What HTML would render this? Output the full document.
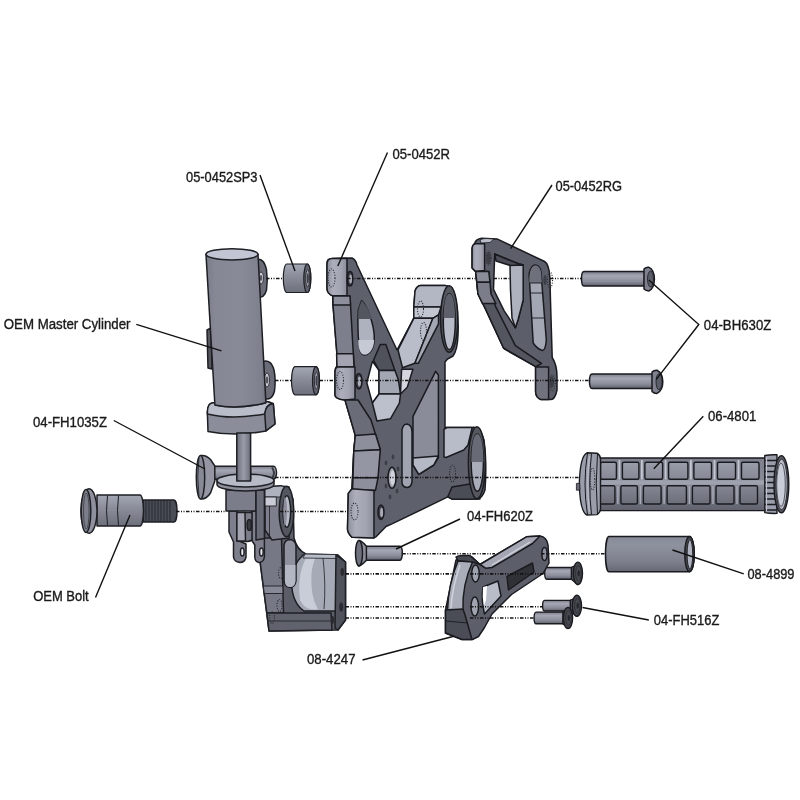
<!DOCTYPE html>
<html><head><meta charset="utf-8">
<style>
html,body{margin:0;padding:0;background:#fff;}
svg{display:block;will-change:transform;}
text{font-family:"Liberation Sans",sans-serif;font-size:14px;fill:#1a1a1a;stroke:#1a1a1a;stroke-width:0.35px;}
.ld{stroke:#111;stroke-width:1.4;fill:none;}
.cl{stroke:#151515;stroke-width:1.6;fill:none;stroke-dasharray:3.5 1.5 1 1.5 1 1.5;}
</style></head>
<body>
<svg width="800" height="800" viewBox="0 0 800 800">
<rect width="800" height="800" fill="#fff"/>
<defs>
<linearGradient id="gCyl" x1="0" y1="0" x2="1" y2="0">
<stop offset="0" stop-color="#7a7d89"/><stop offset="0.15" stop-color="#868995"/><stop offset="0.6" stop-color="#888b97"/><stop offset="0.92" stop-color="#7e818d"/><stop offset="1" stop-color="#71747f"/>
</linearGradient>
<linearGradient id="gRod" x1="0" y1="0" x2="1" y2="0">
<stop offset="0" stop-color="#6c6f7a"/><stop offset="0.5" stop-color="#9a9daa"/><stop offset="1" stop-color="#6c6f7a"/>
</linearGradient>
<linearGradient id="gSpc" x1="0" y1="0" x2="0" y2="1">
<stop offset="0" stop-color="#a4a8b5"/><stop offset="0.35" stop-color="#8f929e"/><stop offset="1" stop-color="#6d707b"/>
</linearGradient>
<linearGradient id="gBolt" x1="0" y1="0" x2="0" y2="1">
<stop offset="0" stop-color="#7b7e8a"/><stop offset="0.3" stop-color="#a5a8b4"/><stop offset="0.7" stop-color="#8a8d99"/><stop offset="1" stop-color="#5e616c"/>
</linearGradient>
<linearGradient id="gGrip" x1="0" y1="0" x2="0" y2="1">
<stop offset="0" stop-color="#7a7d89"/><stop offset="0.25" stop-color="#8d909c"/><stop offset="0.6" stop-color="#7e818d"/><stop offset="1" stop-color="#5e616c"/>
</linearGradient>
<linearGradient id="gSleeve" x1="0" y1="0" x2="0" y2="1">
<stop offset="0" stop-color="#878a97"/><stop offset="0.25" stop-color="#8e919e"/><stop offset="0.7" stop-color="#7e818d"/><stop offset="1" stop-color="#666974"/>
</linearGradient>
<linearGradient id="gGripB" x1="0" y1="0" x2="0" y2="1">
<stop offset="0" stop-color="#7d808c"/><stop offset="0.5" stop-color="#8a8d99"/><stop offset="1" stop-color="#5f626d"/>
</linearGradient>
<linearGradient id="gPadU" x1="0" y1="0" x2="0" y2="1">
<stop offset="0" stop-color="#9a9daa"/><stop offset="1" stop-color="#868995"/>
</linearGradient>
<linearGradient id="gPadL" x1="0" y1="0" x2="0" y2="1">
<stop offset="0" stop-color="#848793"/><stop offset="1" stop-color="#6c6f7a"/>
</linearGradient>
<linearGradient id="gBoss" x1="0" y1="0" x2="1" y2="0">
<stop offset="0" stop-color="#8c8f9b"/><stop offset="0.3" stop-color="#acafbb"/><stop offset="0.7" stop-color="#a2a5b1"/><stop offset="1" stop-color="#8b8e9a"/>
</linearGradient>
</defs>
<!--PARTS-->
<g id="grip" stroke="#1a1b20" stroke-width="1.4" stroke-linejoin="round">
<path d="M598 458 H768 V510.6 H598 Z" fill="url(#gGripB)"/>
<path d="M600 482.5 H765" fill="none" stroke="#9ea2ae" stroke-width="4.5"/>
<path d="M619.4 460 V479.5" stroke="#c3c7d2" stroke-width="1.8" fill="none"/>
<path d="M617.9 486 V504" stroke="#a9adb9" stroke-width="1.4" fill="none"/>
<path d="M641.9 460 V479.5" stroke="#c3c7d2" stroke-width="1.8" fill="none"/>
<path d="M640.4 486 V504" stroke="#a9adb9" stroke-width="1.4" fill="none"/>
<path d="M665.6 460 V479.5" stroke="#c3c7d2" stroke-width="1.8" fill="none"/>
<path d="M664.1 486 V504" stroke="#a9adb9" stroke-width="1.4" fill="none"/>
<path d="M690.9 460 V479.5" stroke="#c3c7d2" stroke-width="1.8" fill="none"/>
<path d="M689.4 486 V504" stroke="#a9adb9" stroke-width="1.4" fill="none"/>
<path d="M714.5 460 V479.5" stroke="#c3c7d2" stroke-width="1.8" fill="none"/>
<path d="M713.0 486 V504" stroke="#a9adb9" stroke-width="1.4" fill="none"/>
<path d="M738.5 460 V479.5" stroke="#c3c7d2" stroke-width="1.8" fill="none"/>
<path d="M737.0 486 V504" stroke="#a9adb9" stroke-width="1.4" fill="none"/>
<rect x="600.5" y="462.2" width="15.9" height="17" rx="1.5" fill="url(#gPadU)"/>
<rect x="599.0" y="485.8" width="15.9" height="18.2" rx="1.5" fill="url(#gPadL)"/>
<rect x="622.4" y="462.2" width="16.5" height="17" rx="1.5" fill="url(#gPadU)"/>
<rect x="620.9" y="485.8" width="16.5" height="18.2" rx="1.5" fill="url(#gPadL)"/>
<rect x="644.9" y="462.2" width="17.7" height="17" rx="1.5" fill="url(#gPadU)"/>
<rect x="643.4" y="485.8" width="17.7" height="18.2" rx="1.5" fill="url(#gPadL)"/>
<rect x="668.6" y="462.2" width="19.3" height="17" rx="1.5" fill="url(#gPadU)"/>
<rect x="667.1" y="485.8" width="19.3" height="18.2" rx="1.5" fill="url(#gPadL)"/>
<rect x="693.9" y="462.2" width="17.6" height="17" rx="1.5" fill="url(#gPadU)"/>
<rect x="692.4" y="485.8" width="17.6" height="18.2" rx="1.5" fill="url(#gPadL)"/>
<rect x="717.5" y="462.2" width="18.0" height="17" rx="1.5" fill="url(#gPadU)"/>
<rect x="716.0" y="485.8" width="18.0" height="18.2" rx="1.5" fill="url(#gPadL)"/>
<rect x="741.5" y="462.2" width="17.5" height="17" rx="1.5" fill="url(#gPadU)"/>
<rect x="740.0" y="485.8" width="17.5" height="18.2" rx="1.5" fill="url(#gPadL)"/>
<!-- left flange -->
<path d="M587 452.8 Q580 456 579.3 484 Q580 512 587 515 L597 514.6 Q600.5 512 600.5 509 L600.5 459 Q600.5 455.5 597 453.2 Z" fill="#9a9daa"/>
<path d="M587.5 453 Q582.5 484 587.5 514.8" fill="none" stroke-width="1"/>
<path d="M591.5 453.2 Q588 484 591.5 514.7" fill="none" stroke-width="1"/>
<path d="M597.5 453.6 Q595 484 597.5 514.4" fill="none" stroke-width="1"/>
<path d="M589.5 456 Q586 484 589.5 512" fill="none" stroke="#b9bdc9" stroke-width="1.3"/>
<rect x="576.4" y="483.4" width="3.4" height="6.8" fill="#6a6d78" stroke-width="0.8"/>
<!-- right cap -->
<path d="M764.8 455.5 Q770 454.5 777 454.8 L777 513.4 Q770 513.6 764.8 512.6 Z" fill="#9a9daa"/>
<path d="M765 460.5 H777 M765 466.0 H777 M765 471.5 H777 M765 477.0 H777 M765 482.5 H777 M765 488.0 H777 M765 493.5 H777 M765 499.0 H777 M765 504.5 H777 M765 510.0 H777" fill="none" stroke-width="1.3"/>
<path d="M766.5 457 V511" fill="none" stroke="#c0c4d0" stroke-width="1.2"/>
<ellipse cx="781.4" cy="484.2" rx="7.4" ry="28.6" fill="#55585f"/>
<ellipse cx="781.6" cy="484.4" rx="5.6" ry="25.2" fill="#b6bac6" stroke-width="0.8"/>
<ellipse cx="781" cy="484.8" rx="4.3" ry="21.5" fill="#c9cdd8" stroke="#3a3c43" stroke-width="0.8"/>
</g><g id="fh516" stroke="#1a1b20" stroke-width="1.4" stroke-linejoin="round">
<path d="M546.7 567.5 H572.4 V579.2 H546.7 A2 5.850000000000023 0 0 1 546.7 567.5 Z" fill="url(#gBolt)"/>
<path d="M571.4 567.5 L577.9 564.2 L577.9 584.6 L571.4 579.2 Z" fill="#5d606b"/>
<ellipse cx="577.9" cy="573.35" rx="4.6" ry="11.199999999999989" fill="#46484f"/>
<ellipse cx="578.4" cy="573.35" rx="2.8" ry="7.839999999999992" fill="none" stroke="#2a2b30" stroke-width="0.8"/>
<ellipse cx="578.6999999999999" cy="573.35" rx="1.2" ry="3.135999999999997" fill="#25262b" stroke="none"/>
<path d="M544.6 600.4 H571.3 V611 H544.6 A2 5.300000000000011 0 0 1 544.6 600.4 Z" fill="url(#gBolt)"/>
<path d="M570.3 600.4 L576.9 597.2 L576.9 616.4 L570.3 611 Z" fill="#5d606b"/>
<ellipse cx="576.9" cy="605.7" rx="4.6" ry="10.599999999999966" fill="#46484f"/>
<ellipse cx="577.4" cy="605.7" rx="2.8" ry="7.419999999999976" fill="none" stroke="#2a2b30" stroke-width="0.8"/>
<ellipse cx="577.6999999999999" cy="605.7" rx="1.2" ry="2.9679999999999906" fill="#25262b" stroke="none"/>
<path d="M536.1 612.1 H563.9 V623.8 H536.1 A2 5.849999999999966 0 0 1 536.1 612.1 Z" fill="url(#gBolt)"/>
<path d="M562.9 612.1 L568.0 608.9 L568.0 628 L562.9 623.8 Z" fill="#5d606b"/>
<ellipse cx="568.0" cy="617.95" rx="4.6" ry="10.550000000000011" fill="#46484f"/>
<ellipse cx="568.5" cy="617.95" rx="2.8" ry="7.385000000000008" fill="none" stroke="#2a2b30" stroke-width="0.8"/>
<ellipse cx="568.8" cy="617.95" rx="1.2" ry="2.9540000000000033" fill="#25262b" stroke="none"/>
</g><g id="footpeg" stroke="#1a1b20" stroke-width="1.5" stroke-linejoin="round">
<!-- arm front face dark -->
<path d="M472 557 L480 564.5 L526.5 536.8 L540 536 Q546.8 537 548 545 L549 563 L543 573.5 L511.5 594.5 L492 614 L484.5 627.5 L478.5 636.5 L472.5 639.5 L462 639.5 L445.5 633 L445.5 610 L456 560 Z" fill="#5c5f6a"/>
<!-- arm top face light -->
<path d="M480 564.5 L526.5 536.8 L540 536 L532.5 543.5 L492 567.5 L486 568.3 Z" fill="#a4a7b3"/>
<path d="M492 565 L530 542" fill="none" stroke="#d0d3dc" stroke-width="1.2"/>
<!-- block top -->
<path d="M456 557 Q458 555.5 462 555.5 L470 555.5 L480 564.5 L472.5 562 L458 561 Z" fill="#45484f"/>
<!-- curved left face -->
<path d="M458 561 L472.5 562 Q462 585 463 610 L447.5 611 Q448 585 458 561 Z" fill="#a9adb9"/>
<path d="M460 565 Q452 588 451 608" fill="none" stroke="#d0d3dc" stroke-width="1.5"/>
<!-- bottom block -->
<path d="M445.5 610 L463 609 L465 615 L472 639.5 L462 639.5 L445.5 633 Z" fill="#4a4d55"/>
<path d="M445.5 621 L468 623" fill="none" stroke-width="0.9"/>
<!-- holes -->
<ellipse cx="475.5" cy="573.5" rx="3.8" ry="8.5" fill="#9fa3af"/>
<ellipse cx="474.8" cy="606.5" rx="3.8" ry="9.5" fill="#9fa3af"/>
<ellipse cx="544.5" cy="554" rx="2.6" ry="6.5" fill="#8e919d"/>
<!-- window -->
<path d="M483 587 L498 581 L501 596 L484.5 614 Q481 600 483 587 Z" fill="#b8bcc8"/>
<path d="M483 587 L487 586 L486 600 L484 606 Q482 597 483 587 Z" fill="#ffffff" stroke="none"/>
<!-- logo plate -->
<path d="M507 576.5 L532.5 563 L534 572 L508.5 590 Z" fill="#2f3137"/>
</g>
<g id="heelguard" stroke="#1a1b20" stroke-width="1.5" stroke-linejoin="round">
<path d="M474.5 243.7 Q476 239 481.6 238.3 L497 238.9 L544.6 261.5 Q549 264 549.9 277.5 L550.5 301 L552.2 357.5 Q557 365 557 376.5 L557 390 Q555 399.5 551 399.5 L541 399.5 Q536 398 535.6 392 L535.6 367 L534.4 365.8 L504.7 349.2 L503.5 348 L485.2 308.4 L478 294 L475.7 271.6 L472.1 268 L472.1 248 Z" fill="#5c5f6a"/>
<path d="M472.1 248 Q472.5 243.7 476 243.7 L484.6 243.7 L484.6 270.4 L475.7 271.6 L472.1 268 Z" fill="url(#gBoss)"/>
<path d="M480 240 Q482 238.5 486 238.5 L494 239 L490 242.5 L481 243 Z" fill="#b9bdc9" stroke-width="0.8"/>
<path d="M475.7 271.6 L488.8 271.6 L491 294 L495.9 307.2 L515.4 345.6 L541.5 363.4 L535.6 367 L534.4 365.8 L503.5 348 L485.2 308.4 L478 294 Z" fill="#53565f"/>
<path d="M475.7 271.6 L488.8 271.6 L490 282.3 L476.8 282.3 Z" fill="#8a8d99"/>
<path d="M476.8 282.3 L490 282.3 L491 294 L495.9 303.6 L482.5 303.6 L478 294 Z" fill="#7b7e8a"/>
<path d="M535.6 367 L548.6 367 L548.6 399.5 L541 399.5 Q536 398 535.6 392 Z" fill="#70737e"/>
<!-- left window -->
<path d="M494.7 254 L518.4 263.8 L523.2 265 L523.2 300 L518 320 L515.4 327.8 L504.2 310.8 L493.5 289.4 Z" fill="#ffffff"/>
<path d="M494.7 254 L518.4 263.8 L523.2 265 L512 266 L496 261 Z" fill="#4b4e56"/>
<path d="M510 265.5 L523.2 265 L523.2 300 L518 320 L515.4 327.8 L512 318 L510.5 290 Z" fill="#aeb2be"/>
<!-- right window -->
<path d="M529.1 274 Q531 265 535.5 265 Q540 265.5 541 272 L546.3 340 Q545.5 350 542.7 350.4 Q537 349 533.2 343 Z" fill="#a3a7b3"/>
<path d="M529.3 283 Q529 266 535.5 265.2 Q540.5 266 541.2 274 L541.9 283 Z" fill="#6e717c" stroke="none"/>
<path d="M529.3 283 L541.9 283 M530 293 L543 293 M531.5 318 L544.7 318" stroke-width="0.9"/>
<ellipse cx="488.5" cy="258" rx="2.2" ry="6" fill="#3d3f46" stroke="none"/>
<ellipse cx="552" cy="382" rx="2" ry="6" fill="#3d3f46" stroke="none"/>
<ellipse cx="545" cy="280" rx="1.6" ry="5" fill="#3d3f46" stroke="none"/>
</g>
<g id="bh630" stroke="#1a1b20" stroke-width="1.5" stroke-linejoin="round">
<path d="M584 271.6 H644.5 V286 H584 A2.5 7.2 0 0 1 584 271.6 Z" fill="url(#gBolt)"/>
<path d="M644 269 Q646 267 649 267.3 Q654.4 270 654.4 279 Q654.4 288 649 290.9 Q646 291 644 289 Z" fill="#7f828e"/>
<ellipse cx="650.5" cy="279" rx="3" ry="8" fill="#5a5d68" stroke-width="0.8"/>
<path d="M592 374 H653 V388.4 H592 A2.5 7.2 0 0 1 592 374 Z" fill="url(#gBolt)"/>
<path d="M652 372 Q654 370 657 370.2 Q662.8 373 662.8 381.7 Q662.8 390.5 657 393.4 Q654 393.5 652 391.4 Z" fill="#7f828e"/>
<ellipse cx="659" cy="381.7" rx="3" ry="8" fill="#5a5d68" stroke-width="0.8"/>
</g>
<g id="sleeve" stroke="#1a1b20" stroke-width="1.5" stroke-linejoin="round">
<path d="M609 536.6 H689.5 A4.8 17.6 0 0 1 689.5 571.8 H609 A3.5 17.6 0 0 1 609 536.6 Z" fill="url(#gSleeve)"/>
<ellipse cx="689.5" cy="554.1" rx="4.8" ry="17.6" fill="#45474e" stroke-width="1.4"/>
<ellipse cx="689.9" cy="554.3" rx="2.8" ry="14.5" fill="#b0b4c0" stroke-width="0.9"/>
</g>
<g id="fh620" stroke="#1a1b20" stroke-width="1.5" stroke-linejoin="round">
<path d="M366 546.2 H400 A2.3 7 0 0 1 400 560.2 H366 Z" fill="url(#gBolt)"/>
<path d="M359 540.5 Q362 541 366.4 546.2 L366.4 560.2 Q362 565 359 565.9 Z" fill="#8c8f9b"/>
<ellipse cx="359" cy="553.2" rx="3.5" ry="12.7" fill="#6f727e"/>
</g>
<g id="bracket" stroke="#1a1b20" stroke-width="1.5" stroke-linejoin="round">
<!-- silhouette dark -->
<path d="M327 264 Q327 258.5 332 258.5 L352 258 Q356 260 357 265 L397 350 L413.8 318 L413.8 307 L415 291 Q417 285.6 421 285.6 L445 285.6 Q452 286 455 296 Q459 315 458 335 Q457.5 350 453 356 L447.5 359 L445 362 L445 427.5 L472 427.5 Q480 426 484 440 Q487 462 485 490 Q482 499 477 499 L452.6 499.3 L447.8 496.8 L438 501.7 L392.5 523.6 L386 526.5 L376.3 536.6 L374 537.8 L352 537.2 Q347.5 533 347.5 529 L348.3 493.4 L352 488.8 L353.8 451 L355.3 435.6 L345 400 Q335 399 335 395 L335 372 Q335 368 337 366 L337 355 L333 305 L333 296 Q327 294 327 288 Z" fill="#5e616c"/>
<!-- left side faces -->
<path d="M327 264 Q327 258.5 332 258.5 L347 258.3 L347 295.5 L333 296 Q327 294 327 288 Z" fill="url(#gBoss)"/>
<path d="M333 296 L350 296 L354 366 L337 366 L337 355 L333 305 Z" fill="#7d808c"/>
<path d="M333 296 L350 296 L350.5 305 L333 305 Z" fill="#8d909c"/>
<path d="M336.6 353.8 L353.4 353.8 L354 367 L337 367 Z" fill="#a2a5b1"/>
<path d="M335 372 Q335 368 337 367 L355 367 L355 399 L345 400 Q335 399 335 395 Z" fill="url(#gBoss)"/>
<path d="M345 400 L358 400 L371 420 L380.3 449.7 L377.2 466.9 L374 491.9 L352 488.8 L353.8 451 L355.3 435.6 Z" fill="#6a6d78"/>
<path d="M355.3 435.6 L375.5 434 L380.3 449.7 L353.8 451 Z" fill="#8d909c"/>
<path d="M353.8 451 L380.3 449.7 L378 477.8 L353 477.8 Z" fill="#9497a3"/>
<path d="M353 477.8 L378 477.8 L375.5 490.3 L352.5 490.3 Z" fill="#8d909c"/>
<path d="M348.3 493.4 L352 488.8 L374 490.5 L374 538 L352 537.2 Q347.5 533 347.5 529 Z" fill="url(#gBoss)"/>
<!-- top window -->
<path d="M361.6 300.6 C367 306 374.5 324 374.3 339 C374 351 367 357 362 354 C357.5 350 357.5 322 358.3 310 Z" fill="#aeb2be"/>
<path d="M361.6 300.6 C366 305 370 312 372.3 319 L358.2 319 L358.3 310 Z" fill="#53565f" stroke="none"/>
<path d="M358.3 340 L374.2 340 C373.8 351 367 357 362 354 C359 351 358 345 358.3 340 Z" fill="#c6cad5" stroke="none"/>
<!-- middle window -->
<path d="M366.8 382.8 L372.4 361.4 L379 370.4 L379 394 L372.4 403 Z" fill="#ffffff"/>
<path d="M373.5 360.3 L380.3 344.5 L385.9 344.5 L394.9 370.4 L379 370.4 Z" fill="#4f525b"/>
<path d="M379 370.4 L394.9 370.4 L398.3 379.4 L400.5 394 L379 394 Z" fill="#a3a7b3"/>
<path d="M372.4 403 L379 394 L400.5 394 L399.4 403 L390.4 418.8 L376.9 421 Z" fill="#bcc0cc"/>
<path d="M401.6 369.3 L412.9 369.3 L407.3 387.3 L400.5 394 Z" fill="#d3d6df"/>
<!-- upper right arm light faces -->
<path d="M415 291 Q417 285.6 421 285.6 L445 285.6 Q449 286 450 290 L441 307 L413.8 307 Z" fill="#b3b7c3"/>
<path d="M413.8 307 L441 307 L438.5 315 L432.9 318.3 L413.8 318.3 Z" fill="#c3c7d2"/>
<path d="M398 350 L413.8 318.3 L432.9 318.3 L414.9 363.3 L402.5 367.8 Z" fill="#b9bdc9"/>
<path d="M432.9 318.3 L438.5 314.9 L438.5 323.9 L418.3 363.3 L414.9 363.3 Z" fill="#a4a8b4"/>
<!-- upper right boss -->
<ellipse cx="449.2" cy="319" rx="8.6" ry="33.3" fill="#55585f"/>
<ellipse cx="449.3" cy="321.6" rx="6" ry="28" fill="#b8bcc8"/>
<path d="M443.5 318 Q444 294 449.3 293.6 Q454.5 294 455.2 318 Z" fill="#5d606a" stroke="none"/>
<!-- right window -->
<path d="M435.6 371.3 L438.4 375 L438.4 457.5 L433.8 465 L418.8 474.4 L413 465 L413 416.3 Z" fill="#8a8d99"/>
<path d="M413 458 L438.4 456 L433.8 465 L418.8 474.4 L413 465 Z" fill="#b5b9c5"/>
<!-- slot -->
<path d="M402 430 Q403 424 407 424 Q412 425 412 432 L412 482 Q411 487.5 407 487.5 Q402 487 402 482 Z" fill="#a0a4b0"/>
<!-- lower right boss -->
<path d="M444 429.4 L446.9 427.5 L472.2 427.5 L468 445 L463.8 450 L446 457.5 L444 457 Z" fill="#b8bcc8"/>
<path d="M447.8 496.8 L452 487 L470 484 L480 499 L452.6 499.3 Z" fill="#4a4d55"/>
<ellipse cx="476.9" cy="462.7" rx="8.5" ry="36" fill="#55585f"/>
<ellipse cx="477.3" cy="462.6" rx="6.1" ry="28.6" fill="#a9adb9"/>
<path d="M471.3 462 Q471.5 434.5 477.3 434 Q483 434.5 483.4 462 Z" fill="#686b76" stroke="none"/>
<!-- holes -->
<ellipse cx="350" cy="278.8" rx="2.8" ry="7.2" fill="#3d3f46"/>
<ellipse cx="350.6" cy="279" rx="1.4" ry="4.5" fill="#a9adb9" stroke="none"/>
<ellipse cx="358.8" cy="381.3" rx="3.2" ry="7.8" fill="#3d3f46"/>
<ellipse cx="359.4" cy="381.5" rx="1.6" ry="5" fill="#a9adb9" stroke="none"/>
<ellipse cx="381" cy="512.2" rx="3" ry="7.2" fill="#3d3f46"/>
<ellipse cx="381.6" cy="512.4" rx="1.5" ry="4.6" fill="#a9adb9" stroke="none"/>
<ellipse cx="392" cy="477.8" rx="4" ry="10.5" fill="#a3a6b2"/>
<ellipse cx="392.6" cy="477.8" rx="2.4" ry="7.5" fill="#d0d3dc" stroke="none"/>
<g fill="#3d3f46" stroke="none">
<ellipse cx="393" cy="457" rx="1.4" ry="2.4"/><ellipse cx="386" cy="463" rx="1.4" ry="2.4"/><ellipse cx="398" cy="469" rx="1.4" ry="2.4"/>
<ellipse cx="386" cy="486" rx="1.4" ry="2.4"/><ellipse cx="397" cy="491" rx="1.4" ry="2.4"/><ellipse cx="390" cy="497" rx="1.4" ry="2.4"/>
</g>
</g>
<g id="oembolt" stroke="#1e1f24" stroke-width="1.5" stroke-linejoin="round">
<path d="M143 500 H174 A3 11 0 0 1 174 522 H143 Z" fill="#4b4d56"/>
<path d="M146 501 V521 M149 501 V521 M152 501 V521 M155 501 V521 M158 501 V521 M161 501 V521 M164 501 V521 M167 501 V521 M170 501 V521" stroke="#2c2e34" stroke-width="1.1"/>
<path d="M97 495 H140 A3.5 15.5 0 0 1 140 526 H97 Z" fill="url(#gSpc)"/>
<path d="M107.5 495.5 Q105.5 510.5 107.5 525.5 M118.5 495.5 Q116.5 510.5 118.5 525.5" fill="none" stroke-width="1"/>
<ellipse cx="89" cy="511" rx="8" ry="22.2" fill="#8e919d"/>
<ellipse cx="86" cy="511" rx="4.8" ry="21.5" fill="#7b7e8a"/>
<ellipse cx="86.3" cy="511" rx="2.8" ry="18" fill="none" stroke="#3a3c43" stroke-width="0.8"/>
</g>
<g id="fh1035" stroke="#1e1f24" stroke-width="1.5" stroke-linejoin="round">
<path d="M213 466.3 H273.5 A3 6.5 0 0 1 273.5 479.3 H213 Z" fill="url(#gBolt)"/>
<path d="M272 467.5 Q276 473 272 478.5" fill="none" stroke="#3a3c43" stroke-width="2"/>
<path d="M201 455.5 Q206.5 455 210.5 459.5 L214.8 466 L214.8 481 L210.5 493 Q206.5 499.2 201 499 Z" fill="#9497a3"/>
<ellipse cx="200.5" cy="477.2" rx="4.2" ry="21.7" fill="#878a96"/>
<path d="M199 458 Q196.5 477 199 496.5" fill="none" stroke-width="0.8"/>
</g><g id="lever" stroke="#1e1f24" stroke-width="1.5" stroke-linejoin="round">
<!-- main arm body dark -->
<path d="M265 487 L281 486 L293 499 L294 538 Q297 550 306 554 L338 555 L345.5 562 L345.5 620 L338 630 L269 631 L257 538 L257 506 L265 498 Z" fill="#5b5e69"/>
<!-- left side face -->
<path d="M257 538 L281.5 538 L283.5 613 L266.8 613 Z" fill="#767985"/>
<path d="M263.3 586 L282.8 586 L283 593.5 L264.3 593.5 Z" fill="#878a96" stroke-width="0.9"/>
<!-- bottom strip -->
<path d="M266.8 613 L331 613 L332 630 L269 631 Z" fill="#60636d"/>
<path d="M268 621 L331.5 621" fill="none" stroke-width="0.8"/>
<!-- cup -->
<path d="M303 555 L337 555 L337 611 L304 611 Q292 603 291.5 582 Q292 565 303 555 Z" fill="#a6aab6"/>
<path d="M306 558 Q297 575 300 600 Q304 608 311 609.5 L318 609.5 Q310 596 311.5 573 Q313 562 316 557 Z" fill="#c9cdd8" stroke="none"/>
<path d="M305 554 L337 554.5 L337 558.5 L303 558 Z" fill="#b9bdc9" stroke-width="0.8"/>
<path d="M323 558 Q326 585 324 609" fill="none" stroke-width="0.8"/>
<!-- slot -->
<path d="M284 545 Q285 539.5 290 539.5 Q295.5 540 296 546 L296 581 Q295 587.5 290 587.5 Q284.5 587 284 581 Z" fill="#8f929e"/>
<path d="M285 565 L295.5 565 L295.5 581 Q295 587 290 587 Q285 587 285 581 Z" fill="#b3b7c3" stroke="none"/>
<!-- end face -->
<path d="M336 555 L345.5 562 L345.5 620 L338 630 L335 628 Z" fill="#4f525b"/>
<ellipse cx="342.3" cy="572" rx="1.8" ry="4" fill="#2a2b30" stroke="none"/>
<ellipse cx="341.2" cy="607" rx="2" ry="4.5" fill="#2a2b30" stroke="none"/>
<ellipse cx="332.5" cy="620" rx="1.6" ry="4" fill="#2a2b30" stroke="none"/>
<!-- boss -->
<path d="M265 487 L281 486 L289 487 L289 538 L272 540 L265 530 Z" fill="#7d808c"/>
<path d="M265 487 L281 486 L286 487 L283 497 L265 497 Z" fill="#aeb2be" stroke-width="0.9"/>
<ellipse cx="286.5" cy="511.5" rx="7.3" ry="25.2" fill="#53565f"/>
<ellipse cx="286.8" cy="511.5" rx="3.8" ry="15.8" fill="#b8bcc8"/>
<path d="M284.5 497 Q282 511 284.5 526 Q287 524 287 511 Q287 498 284.5 497 Z" fill="#8b8e9a" stroke="none"/>
<path d="M265 497 L276.3 497 L276.3 506 L265 506 Z" fill="#c9ccd6" stroke-width="0.9"/>
<path d="M269.5 506 L269.5 538" fill="none" stroke-width="0.8"/>
</g><g id="clevis" stroke="#1e1f24" stroke-width="1.5" stroke-linejoin="round">
<!-- forks -->
<path d="M229 511 L237 511 L237 540 L246 544 L246 557 Q245 562.5 240 562.5 Q234 562 233.5 557 L233.5 542 L229 532 Z" fill="#7d808c"/>
<ellipse cx="242.3" cy="552" rx="1.8" ry="4" fill="#e6e8ee"/>
<path d="M251.5 511 L264.4 511 L264.4 557 Q263.5 562.5 259 562.5 Q255 562 254.8 557 L254.8 545 L251.5 540 Z" fill="#7d808c"/>
<ellipse cx="261.4" cy="552" rx="1.8" ry="4" fill="#e6e8ee"/>
<path d="M236.9 512.6 L252 512.6 L252 540 Q248 542.5 244 541 L236.9 541 Z" fill="#7b7e8a"/>
<path d="M236.9 512.6 L245 512.6 L245.5 541 L236.9 541 Z" fill="#a3a6b2"/>
<ellipse cx="249.3" cy="525" rx="2.2" ry="5.5" fill="#3a3c43"/>
<!-- block -->
<rect x="226" y="490" width="30" height="21" fill="#7b7e8a"/>
<path d="M256 490 L264.4 490 L264.4 538.5 L256 540 Z" fill="#6a6d78"/>
<!-- disk -->
<path d="M217 480.5 L217 484.5 A28.5 6.5 0 0 0 274 484.5 L274 480.5 Z" fill="#8e919d"/>
<ellipse cx="245.5" cy="480.5" rx="28.5" ry="6.5" fill="#b7bbc8"/>
<rect x="236.8" y="468" width="13.8" height="11.4" fill="url(#gRod)" stroke="none"/>
<path d="M236.8 468 V479.4 M250.6 468 V479.4" />
</g>
<g id="spacers">
<g stroke="#1e1f24" stroke-width="1.2">
<path d="M286.8 264 H307.3 A3.5 14.25 0 0 1 307.3 292.5 H286.8 A3.5 14.25 0 0 1 286.8 264 Z" fill="url(#gSpc)"/>
<ellipse cx="307.3" cy="278.25" rx="3.5" ry="14.25" fill="#5f626d"/>
<ellipse cx="307.6" cy="278.25" rx="1.9250000000000003" ry="8.549999999999999" fill="#a3a6b2" stroke-width="0.8"/>
<ellipse cx="307.8" cy="278.25" rx="1.05" ry="4.9875" fill="#3d3f46" stroke="none"/>
</g>
<g stroke="#1e1f24" stroke-width="1.2">
<path d="M295.0 366.6 H316.0 A3.5 14.099999999999994 0 0 1 316.0 394.8 H295.0 A3.5 14.099999999999994 0 0 1 295.0 366.6 Z" fill="url(#gSpc)"/>
<ellipse cx="316.0" cy="380.70000000000005" rx="3.5" ry="14.099999999999994" fill="#5f626d"/>
<ellipse cx="316.3" cy="380.70000000000005" rx="1.9250000000000003" ry="8.459999999999996" fill="#a3a6b2" stroke-width="0.8"/>
<ellipse cx="316.5" cy="380.70000000000005" rx="1.05" ry="4.934999999999998" fill="#3d3f46" stroke="none"/>
</g>
</g>
<g id="mcyl" stroke="#1e1f24" stroke-width="1.5" stroke-linejoin="round">
<!-- ears -->
<path d="M257 259.5 Q264 258 266.5 270 Q268 280 266.5 290 Q264 299 258 296.5 Z" fill="#6a6d78"/>
<ellipse cx="261" cy="278" rx="2.5" ry="6" fill="#c9ccd6" stroke-width="0.8"/>
<ellipse cx="261" cy="278" rx="1.3" ry="3" fill="#55575f" stroke="none"/>
<path d="M263 361.5 Q271 359 274 370 Q276 380 274.5 391 Q272 401 264 398.5 Z" fill="#6a6d78"/>
<ellipse cx="267" cy="380" rx="2.5" ry="7" fill="#c9ccd6" stroke-width="0.8"/>
<ellipse cx="267" cy="380" rx="1.3" ry="3.5" fill="#55575f" stroke="none"/>
<!-- left feature -->
<path d="M207 330 L211 328 L212 369 L208 368 Z" fill="#55585f"/>
<!-- collar -->
<path d="M207.4 413.9 Q207 404 212 403 Q238 399 268 401.7 L273.3 403.8 L275 424 L265.9 430.9 Q236 437 208 431.4 Z" fill="#8b8e9a"/>
<path d="M207.4 413.9 Q207 404 212 403 Q238 399 268 401.7 L273.3 403.8 Q266 404 264.8 413.9 Q232 420 207.4 413.9 Z" fill="#b9bdc9"/>
<path d="M264.8 413.9 Q266 404 273.3 403.8 L275 424 L265.9 430.9 Z" fill="#767985"/>
<path d="M214.9 404.9 Q237 410 265.9 402.7" fill="none"/>
<!-- body -->
<path d="M206 254.5 L214.9 404.9 Q237 410 265.9 402.7 L258 254.5 Z" fill="url(#gCyl)"/>
<ellipse cx="232" cy="254.3" rx="26" ry="5.6" fill="#c2c6d4"/>
<!-- pushrod -->
<rect x="236.8" y="433" width="13.8" height="48" fill="url(#gRod)"/>
</g>

<!-- LABELS -->
<g id="labels">
<text x="186" y="181.5" textLength="71.5" lengthAdjust="spacingAndGlyphs">05-0452SP3</text>
<text x="392.5" y="158.8" textLength="57.5" lengthAdjust="spacingAndGlyphs">05-0452R</text>
<text x="555.5" y="191.2" textLength="66.5" lengthAdjust="spacingAndGlyphs">05-0452RG</text>
<text x="703.8" y="330" textLength="67.5" lengthAdjust="spacingAndGlyphs">04-BH630Z</text>
<text x="3.8" y="328.8" textLength="126.7" lengthAdjust="spacingAndGlyphs">OEM Master Cylinder</text>
<text x="33" y="427" textLength="74" lengthAdjust="spacingAndGlyphs">04-FH1035Z</text>
<text x="33.2" y="600.5" textLength="55.5" lengthAdjust="spacingAndGlyphs">OEM Bolt</text>
<text x="307" y="663.8" textLength="48.5" lengthAdjust="spacingAndGlyphs">08-4247</text>
<text x="653.8" y="625" textLength="65.5" lengthAdjust="spacingAndGlyphs">04-FH516Z</text>
<text x="747.5" y="578.8" textLength="47" lengthAdjust="spacingAndGlyphs">08-4899</text>
<text x="708" y="420.5" textLength="48.3" lengthAdjust="spacingAndGlyphs">06-4801</text>
<text x="467" y="521" textLength="66" lengthAdjust="spacingAndGlyphs">04-FH620Z</text>
</g>
<g id="dots" fill="none" stroke="#2c2d33" stroke-width="1.1" stroke-dasharray="1.1 1.4">
<ellipse cx="331.5" cy="278" rx="3.5" ry="9"/>
<ellipse cx="340" cy="380.5" rx="3.5" ry="9"/>
<ellipse cx="354.5" cy="511.5" rx="3.5" ry="8.5"/>
<ellipse cx="420.5" cy="309" rx="3" ry="8"/>
<ellipse cx="423.5" cy="331.5" rx="3" ry="9"/>
<ellipse cx="452.5" cy="473.5" rx="3" ry="8.5"/>
<ellipse cx="488.5" cy="258" rx="2.5" ry="7"/>
<ellipse cx="550" cy="280" rx="2.5" ry="8"/>
<ellipse cx="552.5" cy="383" rx="2.5" ry="8"/>
<ellipse cx="281" cy="573" rx="2.5" ry="5.5"/>
<ellipse cx="279.5" cy="605.5" rx="2.5" ry="6"/>
<ellipse cx="272" cy="617.5" rx="2.5" ry="6"/>
<ellipse cx="592.5" cy="479" rx="2.3" ry="11"/>
</g>
<!-- CENTERLINES -->
<g class="cl">
<path d="M266 278.5 H283.3"/>
<path d="M347 278.5 H475.7"/>
<path d="M493.5 278.5 H510"/>
<path d="M550 278.5 H582"/>
<path d="M275 380.5 H291.5"/>
<path d="M319.5 380.5 H335"/>
<path d="M355 380.5 H590"/>
<path d="M275 477.5 H580"/>
<path d="M176 511.5 H226"/>
<path d="M280 511.5 H348"/>
<path d="M402.3 553.7 H495"/>
<path d="M541 553.7 H605"/>
<path d="M345.5 573.9 H456"/>
<path d="M470 573.9 H544.7"/>
<path d="M345.5 606.8 H447"/>
<path d="M470 606.8 H542.6"/>
<path d="M345.5 618 H446"/>
<path d="M470 618 H534"/>
</g>
<!-- LEADERS -->
<g class="ld">
<path d="M260 175 L295 271"/>
<path d="M387.5 152.5 L337.8 266"/>
<path d="M552 185 L510.6 248.6"/>
<path d="M648.8 280 L698.8 324.5 L656.3 379.4"/>
<path d="M136.3 324.3 L221.5 350.8"/>
<path d="M113.8 420.5 L204.9 469"/>
<path d="M95.5 597.5 L130 515"/>
<path d="M362.5 660 L453.8 636.3"/>
<path d="M582.5 607.5 L648.8 620"/>
<path d="M672.5 550 L743.8 573.8"/>
<path d="M703.3 416.3 L653.8 468.8"/>
<path d="M460 519 L396 549"/>
</g>
</svg>
</body></html>
